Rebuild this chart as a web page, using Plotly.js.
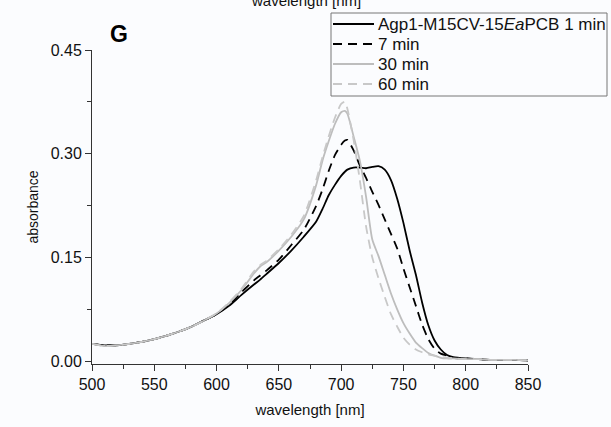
<!DOCTYPE html>
<html>
<head>
<meta charset="utf-8">
<script src="https://cdn.plot.ly/plotly-3.0.1.min.js"></script>
<style>html,body{margin:0;padding:0;background:#fbfcfe;}#chart{width:611px;height:427px;}</style>
</head>
<body>
<div id="chart"></div>
<script>
const wavelength = [500,510,520,530,540,550,560,570,580,590,600,610,620,630,635,640,650,660,670,680,685,690,695,700,703,705,710,715,720,725,730,735,740,745,750,755,760,765,770,775,780,785,790,800,810,820,830,840,850];
const min1  = [0.025,0.023,0.023,0.025,0.028,0.032,0.037,0.043,0.050,0.059,0.068,0.080,0.096,0.111,0.118,0.126,0.142,0.160,0.180,0.202,0.220,0.240,0.255,0.268,0.274,0.277,0.280,0.280,0.279,0.281,0.282,0.277,0.262,0.235,0.200,0.160,0.125,0.085,0.052,0.030,0.017,0.009,0.006,0.004,0.003,0.002,0.002,0.002,0.001];
const min7  = [0.025,0.023,0.023,0.025,0.028,0.032,0.037,0.043,0.050,0.059,0.068,0.082,0.100,0.117,0.124,0.131,0.147,0.168,0.190,0.225,0.248,0.275,0.298,0.313,0.319,0.320,0.305,0.283,0.265,0.245,0.226,0.205,0.184,0.163,0.134,0.107,0.080,0.053,0.032,0.018,0.011,0.008,0.005,0.004,0.003,0.002,0.002,0.002,0.001];
const min30 = [0.025,0.022,0.023,0.025,0.028,0.032,0.037,0.043,0.050,0.059,0.069,0.084,0.103,0.127,0.137,0.143,0.160,0.180,0.205,0.255,0.290,0.318,0.343,0.360,0.362,0.358,0.325,0.290,0.238,0.176,0.152,0.125,0.098,0.075,0.055,0.040,0.027,0.019,0.012,0.008,0.005,0.004,0.004,0.003,0.003,0.002,0.002,0.002,0.001];
const min60 = [0.025,0.022,0.023,0.025,0.028,0.032,0.037,0.043,0.050,0.059,0.069,0.085,0.105,0.130,0.139,0.145,0.162,0.183,0.210,0.262,0.295,0.325,0.352,0.372,0.375,0.365,0.320,0.262,0.195,0.150,0.120,0.093,0.068,0.050,0.034,0.024,0.017,0.013,0.010,0.008,0.006,0.005,0.004,0.003,0.003,0.002,0.002,0.002,0.001];
const seriesNames = ['Agp1-M15CV-15<i>Ea</i>PCB 1 min','7 min','30 min','60 min'];
const yTicks = [0, 0.15, 0.30, 0.45];
const yTickText = ['0.00','0.15','0.30','0.45'];
const xTicks = [500,550,600,650,700,750,800,850];

const styles = [
  {color:'#000000', dash:'solid', width:1.8},
  {color:'#000000', dash:'9px,6px', width:1.8},
  {color:'#bdbdbd', dash:'solid', width:1.8},
  {color:'#c8c8c8', dash:'9px,6px', width:1.8}
];
const ys = [min1, min7, min30, min60];
const traces = ys.map((y,i)=>({
  x: wavelength, y: y, type:'scatter', mode:'lines', name: seriesNames[i], showlegend:false,
  line: {color: styles[i].color, dash: styles[i].dash, width: styles[i].width, shape:'spline', smoothing:0.6}
}));

// plot area in pixels (for placing decorations)
const L = 92, R = 528, T = 50, B = 364;
const px = v => (v - L) / (R - L);
const py = v => (B - v) / (B - T);

const font = 'Liberation Sans, Arial, sans-serif';

// legend drawn as a framed box
const legRows = [24, 44, 64, 84];
const shapes = [
  {type:'rect', xref:'paper', yref:'paper', x0:px(331), x1:px(607), y0:py(96), y1:py(13), line:{color:'#777', width:1}, fillcolor:'rgba(0,0,0,0)'}
];
const annotations = [
  {text:'<b>G</b>', xref:'paper', yref:'paper', x:px(119), y:py(34), xanchor:'center', yanchor:'middle', showarrow:false, font:{family:font, size:23, color:'#000'}},
  {text:'wavelength [nm]', xref:'paper', yref:'paper', x:px(306), y:py(0), xanchor:'center', yanchor:'middle', showarrow:false, font:{family:font, size:15, color:'#111'}}
];
seriesNames.forEach((n,i)=>{
  shapes.push({type:'line', xref:'paper', yref:'paper', x0:px(333), x1:px(374), y0:py(legRows[i]), y1:py(legRows[i]),
               line:{color:styles[i].color, dash:styles[i].dash, width:styles[i].width}});
  annotations.push({text:n, xref:'paper', yref:'paper', x:px(376), y:py(legRows[i]), xanchor:'left', yanchor:'middle',
                    showarrow:false, font:{family:font, size:17, color:'#111'}});
});

const layout = {
  width: 611, height: 427,
  margin: {l:L, r:611-R, t:T, b:427-B},
  paper_bgcolor:'#fbfcfe', plot_bgcolor:'#fbfcfe',
  font: {family: font, size: 16, color:'#111'},
  showlegend: false,
  xaxis: {range:[500,850], tickvals:xTicks, ticks:'outside', ticklen:6, tickcolor:'#333', showline:true, linecolor:'#333', linewidth:1,
          showgrid:false, zeroline:false, mirror:false, tickfont:{family:font, size:16, color:'#111'},
          minor:{dtick:25, tick0:500, ticks:'outside', ticklen:4, tickcolor:'#333', showgrid:false},
          title:{text:'wavelength [nm]', font:{family:font, size:15, color:'#111'}, standoff:12}},
  yaxis: {range:[-0.004,0.45], tickvals:yTicks, ticktext:yTickText, ticks:'outside', ticklen:6, tickcolor:'#333', showline:true, linecolor:'#333', linewidth:1,
          showgrid:false, zeroline:false, tickfont:{family:font, size:16, color:'#111'},
          minor:{tickvals:[0.075,0.225,0.375], ticks:'outside', ticklen:4, tickcolor:'#333', showgrid:false},
          title:{text:'absorbance', font:{family:font, size:14, color:'#111'}, standoff:8}},
  shapes: shapes,
  annotations: annotations
};
Plotly.newPlot('chart', traces, layout, {displayModeBar:false, staticPlot:true});
</script>
</body>
</html>
